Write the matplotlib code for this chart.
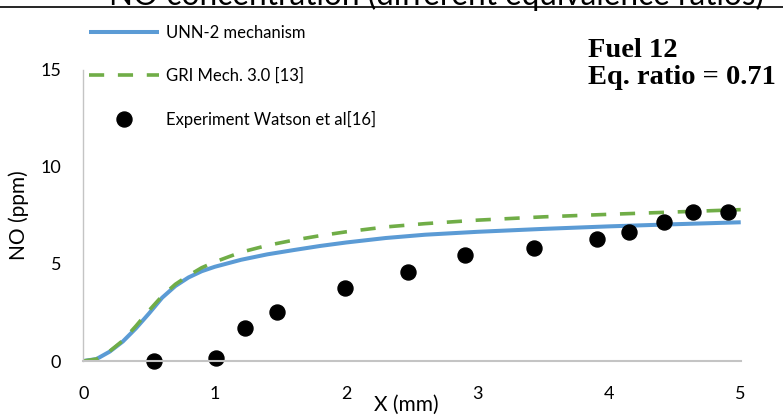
"""
NO concentration vs distance, fuel 12 (eq. ratio 0.71).
Recreates the Excel-style comparison chart: UNN-2, GRI 3.0 and Watson et al. data.
"""

import matplotlib
matplotlib.use("Agg")
import matplotlib.pyplot as plt
from matplotlib.lines import Line2D

# --- data --------------------------------------------------------------------
x_unn = [0.0, 0.1, 0.2, 0.3, 0.4, 0.5, 0.6, 0.7, 0.8, 0.9, 1.0, 1.2, 1.4,
         1.6, 1.8, 2.0, 2.3, 2.6, 3.0, 3.5, 4.0, 4.5, 5.0]
no_unn = [0.0, 0.1, 0.48, 1.0, 1.68, 2.45, 3.26, 3.86, 4.3, 4.62, 4.85, 5.21,
          5.49, 5.71, 5.92, 6.1, 6.33, 6.5, 6.65, 6.8, 6.93, 7.04, 7.14]

x_gri = [0.0, 0.1, 0.2, 0.3, 0.4, 0.5, 0.6, 0.7, 0.8, 0.9, 1.0, 1.2, 1.4,
         1.6, 1.8, 2.0, 2.3, 2.6, 3.0, 3.5, 4.0, 4.5, 5.0]
no_gri = [0.0, 0.1, 0.5, 1.05, 1.8, 2.6, 3.35, 3.95, 4.4, 4.8, 5.1, 5.6,
          5.95, 6.22, 6.45, 6.65, 6.9, 7.07, 7.25, 7.42, 7.55, 7.67, 7.79]

x_exp = [0.54, 1.01, 1.23, 1.47, 1.99, 2.47, 2.90, 3.43, 3.91, 4.15, 4.42,
         4.64, 4.90]
no_exp = [0.0, 0.15, 1.68, 2.54, 3.74, 4.6, 5.44, 5.8, 6.29, 6.65, 7.15,
          7.68, 7.68]

x_ticks = [0, 1, 2, 3, 4, 5]
y_ticks = [0, 5, 10, 15]

BLUE = "#5B9BD5"
GREEN = "#70AD47"
AXIS_GREY = "#c4c4c4"
SANS = ["Lato", "DejaVu Sans"]
SERIF = ["Liberation Serif", "DejaVu Serif"]

plt.rcParams["font.family"] = SANS

fig = plt.figure(figsize=(7.83, 4.19), dpi=100)
ax = fig.add_axes([0.1064, 0.1384, 0.8396, 0.6956])

ax.plot(x_unn, no_unn, color=BLUE, linewidth=2.9,
        solid_capstyle="butt", label="UNN-2 mechanism")
ax.plot(x_gri, no_gri, color=GREEN, linewidth=2.6, dashes=(4.2, 3.8),
        dash_capstyle="butt", label="GRI Mech. 3.0 [13]")
ax.plot(x_exp, no_exp, linestyle="none", marker="o", markersize=10.8,
        color="black", clip_on=False, label="Experiment Watson et al[16]")

ax.set_xlim(0, 5)
ax.set_ylim(0, 15)
ax.set_xticks(x_ticks)
ax.set_yticks(y_ticks)
ax.tick_params(axis="both", length=0, labelsize=13)
ax.tick_params(axis="x", pad=18)
ax.tick_params(axis="y", pad=16)

for side in ("top", "right"):
    ax.spines[side].set_visible(False)
ax.spines["left"].set_color(AXIS_GREY)
ax.spines["left"].set_linewidth(1.0)
ax.spines["bottom"].set_color(AXIS_GREY)
ax.spines["bottom"].set_linewidth(1.5)

ax.set_xlabel("X (mm)", fontsize=15)
ax.xaxis.label.set_va("center")
ax.xaxis.set_label_coords(0.491, -0.151)
ax.set_ylabel("NO (ppm)", fontsize=15)
ax.yaxis.label.set_va("center")
ax.yaxis.set_label_coords(-0.099, 0.5)

ax.legend(loc="upper left", bbox_to_anchor=(0.1137, 0.941),
          bbox_transform=fig.transFigure, frameon=False, fontsize=12,
          handlelength=4.2, handletextpad=0.42, labelspacing=1.62,
          borderpad=0, borderaxespad=0)

# annotation box on the right
fig.text(0.751, 0.865, "Fuel 12", family=SERIF, weight="bold",
         fontsize=20.5, va="baseline", ha="left")
fig.text(0.751, 0.800, "Eq. ratio = 0.71", family=SERIF, weight="bold",
         fontsize=20.5, va="baseline", ha="left")

# clipped title of the surrounding table and the rule under it
fig.text(0.558, 0.988, "NO concentration (different equivalence ratios)",
         fontsize=22.7, ha="center", va="baseline")
fig.add_artist(Line2D([0, 1], [0.9826, 0.9826], transform=fig.transFigure,
                      color="black", linewidth=1.2))

fig.savefig("out.png", dpi=100)
